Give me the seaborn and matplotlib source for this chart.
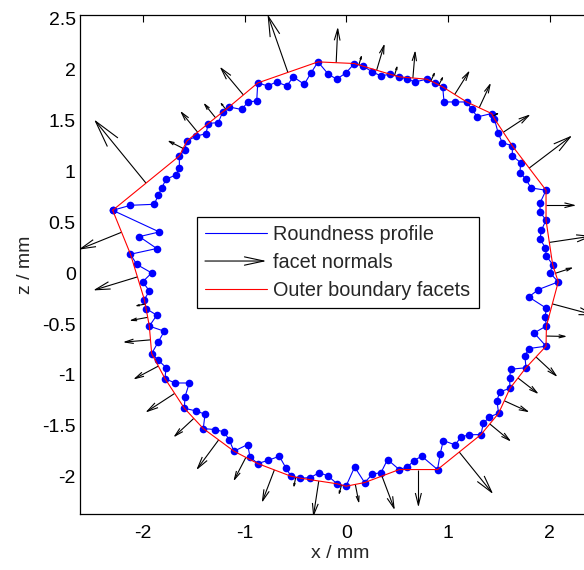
import numpy as np
import pandas as pd
import matplotlib
matplotlib.use('Agg')
import matplotlib.pyplot as plt
import seaborn as sns
from matplotlib.collections import LineCollection
from matplotlib.lines import Line2D
from matplotlib.patches import FancyArrowPatch
from matplotlib.legend_handler import HandlerBase

# roundness profile, measured points in order (clockwise from the left-most point)
profile_x = [-2.295, -2.120, -1.887, -1.847, -1.813, -1.771, -1.673, -1.640, -1.640, -1.587,
             -1.565, -1.476, -1.378, -1.356, -1.257, -1.214, -1.152, -1.028, -0.966, -0.880,
             -0.870, -0.772, -0.684, -0.585, -0.520, -0.413, -0.350, -0.278, -0.177, -0.094,
             -0.003, 0.079, 0.167, 0.255, 0.341, 0.429, 0.518, 0.599, 0.675, 0.790,
             0.871, 0.947, 0.960, 1.071, 1.183, 1.235, 1.287, 1.428, 1.454, 1.493,
             1.532, 1.631, 1.631, 1.713, 1.706, 1.765, 1.814, 1.962, 1.903, 1.903,
             1.962, 1.916, 1.903, 1.955, 1.965, 2.027, 2.001, 2.082, 1.888, 1.792,
             1.965, 1.953, 1.966, 1.845, 1.962, 1.790, 1.755, 1.765, 1.615, 1.604,
             1.608, 1.506, 1.480, 1.496, 1.405, 1.346, 1.323, 1.210, 1.125, 1.070,
             0.953, 0.923, 0.896, 0.740, 0.663, 0.601, 0.520, 0.405, 0.341, 0.257,
             0.180, 0.082, -0.003, -0.091, -0.177, -0.265, -0.353, -0.450, -0.543, -0.595,
             -0.658, -0.766, -0.870, -0.946, -0.969, -1.103, -1.152, -1.201, -1.290, -1.405,
             -1.388, -1.476, -1.591, -1.585, -1.542, -1.683, -1.781, -1.771, -1.847, -1.912,
             -1.847, -1.788, -1.935, -1.862, -1.967, -1.984, -1.935, -2.000, -1.912, -2.059,
             -2.120, -1.862, -2.033, -1.837]
profile_z = [0.619, 0.668, 0.678, 0.767, 0.839, 0.924, 0.967, 1.039, 1.153, 1.209,
             1.301, 1.347, 1.373, 1.472, 1.482, 1.586, 1.635, 1.610, 1.684, 1.694,
             1.871, 1.842, 1.881, 1.842, 1.930, 1.858, 1.964, 2.078, 1.957, 1.908,
             1.970, 2.062, 2.035, 1.980, 1.940, 1.957, 1.931, 1.908, 1.881, 1.908,
             1.871, 1.832, 1.684, 1.684, 1.684, 1.610, 1.537, 1.570, 1.521, 1.374,
             1.285, 1.252, 1.153, 1.088, 0.990, 0.924, 0.839, 0.816, 0.691, 0.603,
             0.521, 0.423, 0.334, 0.253, 0.170, 0.085, 0.003, -0.085, -0.160, -0.233,
             -0.344, -0.429, -0.518, -0.587, -0.717, -0.741, -0.818, -0.929, -0.944, -1.030,
             -1.131, -1.167, -1.256, -1.377, -1.413, -1.475, -1.586, -1.588, -1.610, -1.688,
             -1.645, -1.773, -1.930, -1.798, -1.844, -1.904, -1.930, -1.832, -1.960, -1.975,
             -2.058, -1.905, -2.094, -2.070, -1.995, -1.960, -2.009, -2.015, -1.996, -1.911,
             -1.799, -1.839, -1.871, -1.806, -1.684, -1.750, -1.635, -1.560, -1.537, -1.527,
             -1.386, -1.354, -1.327, -1.216, -1.079, -1.079, -1.036, -0.927, -0.855, -0.790,
             -0.675, -0.570, -0.520, -0.413, -0.347, -0.259, -0.174, -0.084, 0.003, 0.087,
             0.187, 0.243, 0.360, 0.406]

# outer boundary facet vertices (same order)
hull_x = [-2.295, -1.640, -1.565, -1.356, -1.214, -1.152, -0.870, -0.278, 0.079, 0.167,
          0.429, 0.518, 0.790, 0.871, 0.947, 1.183, 1.428, 1.454, 1.631, 1.962,
          1.962, 2.027, 2.082, 1.966, 1.962, 1.765, 1.608, 1.496, 1.323, 0.896,
          0.520, 0.180, -0.003, -0.091, -0.450, -0.543, -0.870, -1.103, -1.405, -1.591,
          -1.781, -1.912, -1.935, -1.967, -1.984, -2.120]
hull_z = [0.619, 1.153, 1.301, 1.472, 1.586, 1.635, 1.871, 2.078, 2.062, 2.035,
          1.957, 1.931, 1.908, 1.871, 1.832, 1.684, 1.570, 1.521, 1.252, 0.816,
          0.521, 0.085, -0.085, -0.518, -0.717, -0.929, -1.131, -1.377, -1.586, -1.930,
          -1.930, -2.058, -2.094, -2.070, -2.015, -1.996, -1.871, -1.750, -1.527, -1.327,
          -1.036, -0.790, -0.520, -0.347, -0.259, 0.187]

x_ticks = [-2, -1, 0, 1, 2]
z_ticks = [-2, -1.5, -1, -0.5, 0, 0.5, 1, 1.5, 2, 2.5]

sns.set_style('white')
plt.rcParams['font.family'] = ['Liberation Sans', 'DejaVu Sans']
plt.rcParams['axes.unicode_minus'] = False
fs = 14

fig = plt.figure(figsize=(5.84, 5.70), dpi=100)
ax = fig.add_axes([80 / 584, 1 - 514.3 / 570, 521 / 584, 499 / 570])

prof = pd.DataFrame({'x': profile_x + profile_x[:1], 'z': profile_z + profile_z[:1]})
sns.lineplot(data=prof, x='x', y='z', sort=False, estimator=None, color='#0000ff',
             lw=0.8, marker='o', markersize=5.5, markeredgewidth=0, ax=ax)

# facet normals from the midpoint of every facet, scaled with facet length
hx = np.array(hull_x + hull_x[:1])
hz = np.array(hull_z + hull_z[:1])
dx = np.diff(hx)
dz = np.diff(hz)
mx = hx[:-1] + dx / 2
mz = hz[:-1] + dz / 2
k = 0.93
u = -dz * k
v = dx * k
tx = mx + u
tz = mz + v
a, b = 0.34, 0.25
segs = []
for i in range(len(u)):
    segs.append([(mx[i], mz[i]), (tx[i], tz[i])])
    segs.append([(tx[i] - a * (u[i] + b * v[i]), tz[i] - a * (v[i] - b * u[i])),
                 (tx[i], tz[i]),
                 (tx[i] - a * (u[i] - b * v[i]), tz[i] - a * (v[i] + b * u[i]))])
ax.add_collection(LineCollection(segs, colors='black', linewidths=0.8))

hull = pd.DataFrame({'x': list(hx), 'z': list(hz)})
sns.lineplot(data=hull, x='x', y='z', sort=False, estimator=None, color='#ff0000',
             lw=0.8, ax=ax)

ax.set_xlim(-2.616, 2.502)
ax.set_ylim(-2.37, 2.536)
ax.set_xticks(x_ticks)
ax.set_yticks(z_ticks)
ax.set_xticklabels([f'{t:g}' for t in x_ticks])
ax.set_yticklabels([f'{t:g}' for t in z_ticks])
ax.tick_params(direction='in', length=5, width=0.8, top=True, right=True,
               labelsize=fs, colors='black')
ax.tick_params(axis='x', pad=8)
ax.tick_params(axis='y', pad=3)
for s in ax.spines.values():
    s.set_color('black')
    s.set_linewidth(0.9)
ax.set_xlabel('x / mm', fontsize=fs, labelpad=2)
ax.set_ylabel('z / mm', fontsize=fs, labelpad=6)


class ArrowHandler(HandlerBase):
    def create_artists(self, legend, orig, xd, yd, w, h, fontsize, trans):
        arr = FancyArrowPatch((xd, yd + h / 2), (xd + w, yd + h / 2),
                              arrowstyle='->,head_length=14,head_width=3',
                              mutation_scale=1, shrinkA=0, shrinkB=0,
                              color='black', lw=0.8, transform=trans)
        return [arr]


handles = [Line2D([], [], color='#0000ff', lw=0.8),
           FancyArrowPatch((0, 0), (1, 0)),
           Line2D([], [], color='#ff0000', lw=0.8)]
labels = ['Roundness profile', 'facet normals', 'Outer boundary facets']
leg = ax.legend(handles, labels, loc='upper left', bbox_to_anchor=(0.2246, 0.596),
                fontsize=14.3, frameon=True, fancybox=False, framealpha=1,
                edgecolor='black', handlelength=3.1, handletextpad=0.35,
                labelspacing=0.46, borderpad=0.4, borderaxespad=0,
                handler_map={FancyArrowPatch: ArrowHandler()})
leg.get_frame().set_linewidth(0.9)

fig.savefig('out.png', dpi=100)
